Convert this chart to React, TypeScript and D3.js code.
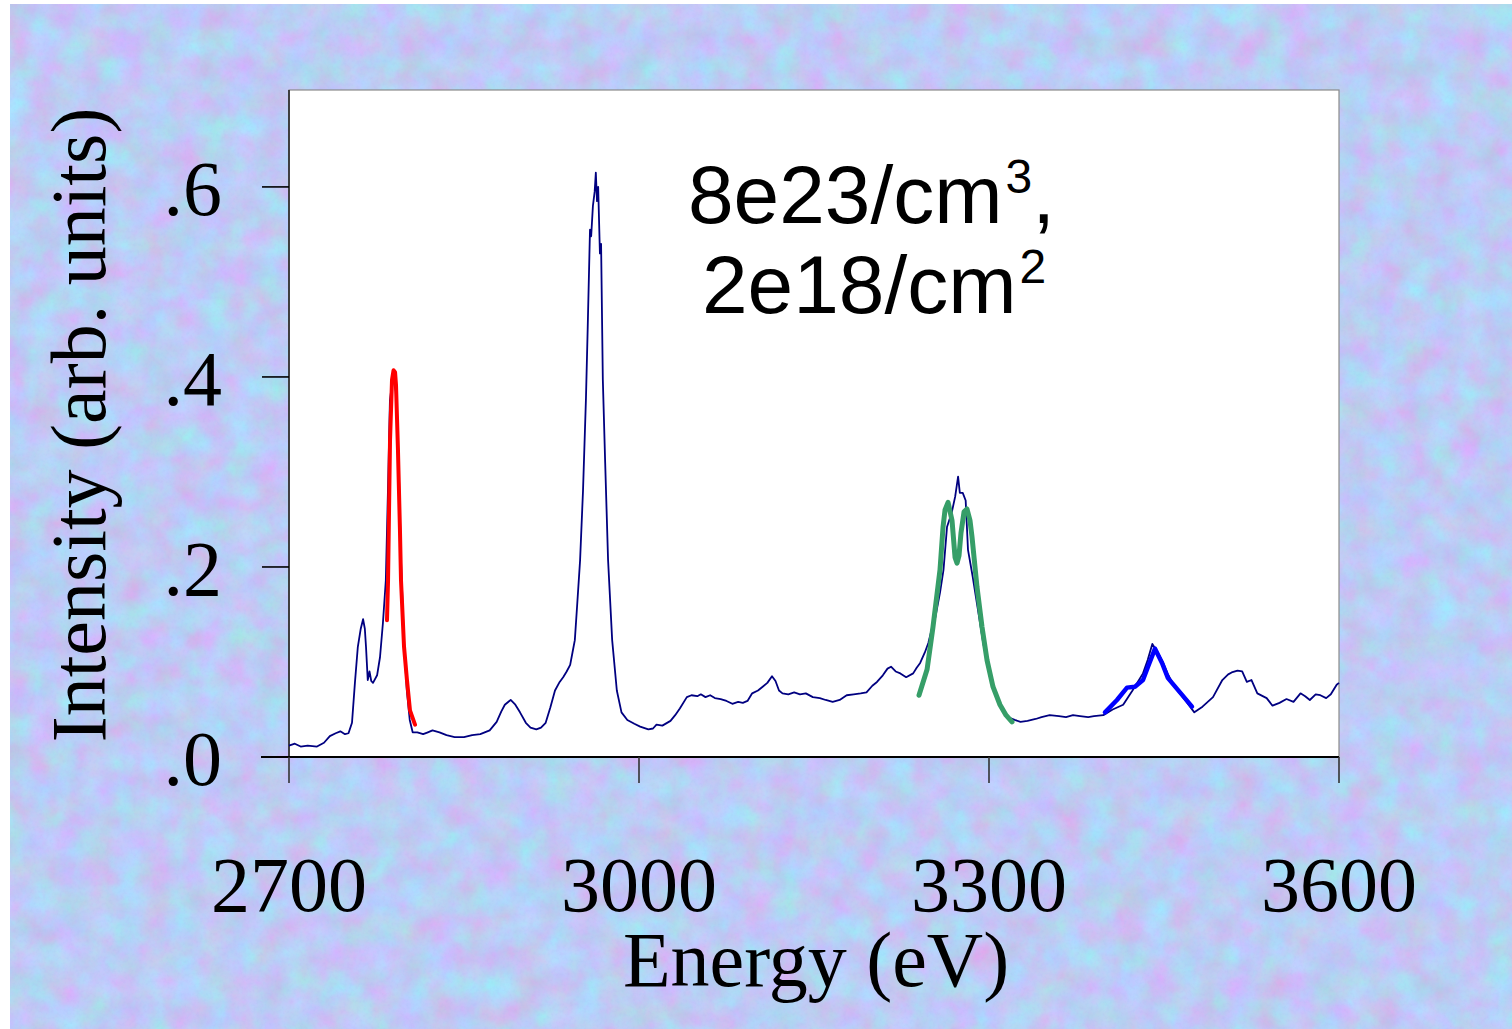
import React from 'react';
import * as d3 from 'd3';

// measured spectrum (energy, intensity)
const spectrumE = [2700,2705,2710,2716,2724,2730,2735,2740,2744,2748,2751,2754,2756.5,2759,2761.5,2763.5,2765,2766,2767.5,2769,2770.5,2772,2775.5,2778,2780.5,2783,2785,2786.5,2789,2791.5,2794,2796,2798.5,2801,2803.5,2806,2810,2815,2819,2823,2829,2835,2842,2850,2857,2864,2872,2878,2882,2885,2890,2894,2898,2903,2907,2912,2916,2920,2924,2928,2932,2935,2938,2941,2943,2945,2947,2949.5,2952,2954.5,2956,2958,2959,2960.5,2962,2963,2964,2965,2966.5,2967.5,2969,2971,2973.5,2977,2981,2985,2990,2996,3001,3008,3012,3015,3020,3027,3031,3035,3041,3045,3050,3053,3057,3061,3065,3070,3075,3080,3085,3089,3093,3097,3102,3106,3110,3114,3117,3120,3123,3128,3133,3138,3143,3149,3155,3160,3166,3172,3178,3184,3190,3195,3200,3204,3209,3213,3216,3220,3224,3229,3235,3238,3241,3245,3248,3251,3254,3258,3261,3264,3268,3271,3273.5,3275,3277.5,3280,3282,3286,3290.5,3295,3301,3308,3316,3322,3327,3333,3340,3345,3352,3360,3366,3372,3378,3385,3390,3398,3406,3415,3423,3432,3436,3440,3442,3445,3449,3453,3459,3468,3476,3483,3492,3500,3505,3508,3513,3517,3521,3525,3530,3538,3543,3549,3555,3561,3567,3571,3575,3580,3584,3589,3593,3598,3600];
const spectrumI = [0.012,0.014,0.011,0.012,0.011,0.015,0.022,0.025,0.027,0.024,0.025,0.036,0.078,0.116,0.135,0.145,0.135,0.116,0.081,0.09,0.08,0.078,0.086,0.105,0.141,0.186,0.29,0.375,0.4,0.385,0.31,0.207,0.123,0.07,0.039,0.026,0.026,0.024,0.026,0.028,0.026,0.023,0.021,0.021,0.023,0.024,0.028,0.037,0.048,0.055,0.06,0.055,0.047,0.036,0.031,0.029,0.031,0.036,0.052,0.07,0.079,0.084,0.09,0.097,0.11,0.123,0.16,0.207,0.28,0.376,0.45,0.555,0.548,0.58,0.595,0.615,0.585,0.6,0.53,0.54,0.397,0.31,0.207,0.123,0.07,0.047,0.039,0.035,0.032,0.029,0.03,0.034,0.033,0.038,0.044,0.051,0.063,0.065,0.064,0.066,0.063,0.065,0.062,0.061,0.059,0.056,0.058,0.057,0.059,0.067,0.07,0.074,0.078,0.085,0.08,0.07,0.067,0.066,0.068,0.066,0.067,0.063,0.062,0.06,0.058,0.06,0.065,0.066,0.067,0.068,0.075,0.079,0.086,0.093,0.095,0.09,0.088,0.084,0.088,0.094,0.099,0.11,0.12,0.135,0.147,0.173,0.197,0.242,0.257,0.274,0.295,0.278,0.278,0.27,0.218,0.19,0.155,0.12,0.084,0.057,0.042,0.039,0.037,0.038,0.04,0.042,0.044,0.043,0.042,0.044,0.043,0.042,0.043,0.044,0.05,0.055,0.07,0.088,0.102,0.119,0.115,0.109,0.1,0.088,0.074,0.06,0.047,0.053,0.063,0.081,0.087,0.089,0.091,0.09,0.079,0.081,0.067,0.062,0.054,0.057,0.061,0.058,0.067,0.064,0.06,0.066,0.065,0.062,0.066,0.076,0.078];

// fitted peaks
const redFitE = [2784,2784.9,2786.6,2788.3,2789.6,2790.9,2791.7,2793.4,2795.1,2796,2796.9,2798.6,2801.1,2803.7,2808];
const redFitI = [0.144,0.186,0.334,0.397,0.407,0.405,0.392,0.323,0.239,0.186,0.162,0.116,0.081,0.049,0.034];
const greenFitE = [3240,3246.9,3252,3258,3260.6,3262.3,3264.9,3268.3,3270.9,3272.6,3274.3,3276,3278.6,3281.1,3283.7,3285.4,3289.7,3294,3298.3,3303.4,3309.4,3314.6,3319.7];
const greenFitI = [0.065,0.092,0.137,0.197,0.242,0.26,0.268,0.249,0.21,0.204,0.212,0.236,0.258,0.261,0.249,0.232,0.179,0.137,0.102,0.074,0.055,0.044,0.037];
const blueFitE = [3399.4,3409.7,3418.3,3425.1,3432,3436.3,3442.3,3448.3,3453.4,3463.7,3474];
const blueFitI = [0.047,0.06,0.073,0.074,0.081,0.095,0.114,0.099,0.083,0.068,0.053];

const xTicks = [2700, 3000, 3300, 3600];
const yTicks = [0, 0.2, 0.4, 0.6];

const W = 1512, H = 1029;
const plot = { left: 289, right: 1339, top: 90, bottom: 757 };

export default function App() {
  const x = d3.scaleLinear().domain([2700, 3600]).range([plot.left, plot.right]);
  const y = d3.scaleLinear().domain([0, 0.702]).range([plot.bottom, plot.top]);
  const line = d3.line<[number, number]>().x(d => x(d[0])).y(d => y(d[1]));
  const pts = (es: number[], is: number[]) => es.map((e, i) => [e, is[i]] as [number, number]);

  const serif = '"Liberation Serif", "Times New Roman", serif';
  const sans = '"Liberation Sans", Arial, Helvetica, sans-serif';

  return (
    <div style={{ position: 'fixed', left: 0, top: 0, background: '#fff' }}>
      <svg width={W} height={H} style={{ display: 'block' }}>
        <defs>
          {/* pastel periwinkle backdrop with faint pink / cyan blotches */}
          <filter id="mottle" x="0" y="0" width="100%" height="100%" colorInterpolationFilters="sRGB">
            <feTurbulence type="fractalNoise" baseFrequency="0.035" numOctaves="5" seed="3" result="n" />
            <feColorMatrix in="n" type="matrix"
              values="0.25 -0.12 0 0 0.675  -0.18 0.2 0 0 0.79  0 0 0.15 0 0.885  0 0 0 0 1" />
          </filter>
          <filter id="speck" x="0" y="0" width="100%" height="100%" colorInterpolationFilters="sRGB">
            <feTurbulence type="fractalNoise" baseFrequency="0.3" numOctaves="2" seed="7" result="s" />
            <feColorMatrix in="s" type="matrix"
              values="0 0 0 0 0.62  0 0 0 0 0.7  0 0 0 0 0.95  0 0 -1.4 0 0.75" />
          </filter>
        </defs>
        <rect x={10} y={4} width={W - 10} height={H - 4} fill="#b9c8f3" />
        <rect x={10} y={4} width={W - 10} height={H - 4} filter="url(#mottle)" />
        <rect x={10} y={4} width={W - 10} height={H - 4} filter="url(#speck)" opacity={0.22} />

        {/* plot area */}
        <rect x={plot.left} y={plot.top} width={plot.right - plot.left} height={plot.bottom - plot.top}
          fill="#fff" stroke="#8a8a8a" strokeWidth={1.2} />
        <line x1={plot.left} x2={plot.left} y1={plot.top} y2={plot.bottom} stroke="#333" strokeWidth={1.8} />

        {/* data */}
        <path d={line(pts(spectrumE, spectrumI)) || ''} fill="none" stroke="#000080" strokeWidth={1.8} strokeLinejoin="round" />
        <path d={line(pts(redFitE, redFitI)) || ''} fill="none" stroke="#ff0000" strokeWidth={4} strokeLinejoin="round" strokeLinecap="round" />
        <path d={line(pts(greenFitE, greenFitI)) || ''} fill="none" stroke="#369e68" strokeWidth={5} strokeLinejoin="round" strokeLinecap="round" />
        <path d={line(pts(blueFitE, blueFitI)) || ''} fill="none" stroke="#0000ff" strokeWidth={4.5} strokeLinejoin="round" strokeLinecap="round" />

        {/* axes */}
        <line x1={plot.left - 28} x2={plot.right} y1={plot.bottom} y2={plot.bottom} stroke="#000" strokeWidth={1.8} />
        {yTicks.map(t => (
          <g key={`y${t}`}>
            <line x1={plot.left - 27} x2={plot.left} y1={y(t)} y2={y(t)} stroke="#000" strokeWidth={1.6} />
            <text x={222} y={y(t) + 28} textAnchor="end" fontFamily={serif} fontSize={78} fill="#000">
              {t.toFixed(1).replace(/^0/, '')}
            </text>
          </g>
        ))}
        {xTicks.map(t => (
          <g key={`x${t}`}>
            <line x1={x(t)} x2={x(t)} y1={plot.bottom} y2={plot.bottom + 26} stroke="#333" strokeWidth={1.6} />
            <text x={x(t)} y={911} textAnchor="middle" fontFamily={serif} fontSize={78} fill="#000">{t}</text>
          </g>
        ))}
        <text x={(plot.left + plot.right) / 2 + 2} y={986} textAnchor="middle" fontFamily={serif} fontSize={78} fill="#000">
          Energy (eV)
        </text>
        <text transform={`translate(105,425) rotate(-90)`} textAnchor="middle" fontFamily={serif} fontSize={78} fill="#000">
          Intensity (arb. units)
        </text>

        {/* annotation */}
        <text x={688} y={223} fontFamily={sans} fontSize={82} fill="#000">
          8e23/cm<tspan fontSize={48} dy={-30} dx={3}>3</tspan><tspan dy={30}>,</tspan>
        </text>
        <text x={702} y={313} fontFamily={sans} fontSize={82} fill="#000">
          2e18/cm<tspan fontSize={48} dy={-30} dx={3}>2</tspan>
        </text>
      </svg>
    </div>
  );
}
